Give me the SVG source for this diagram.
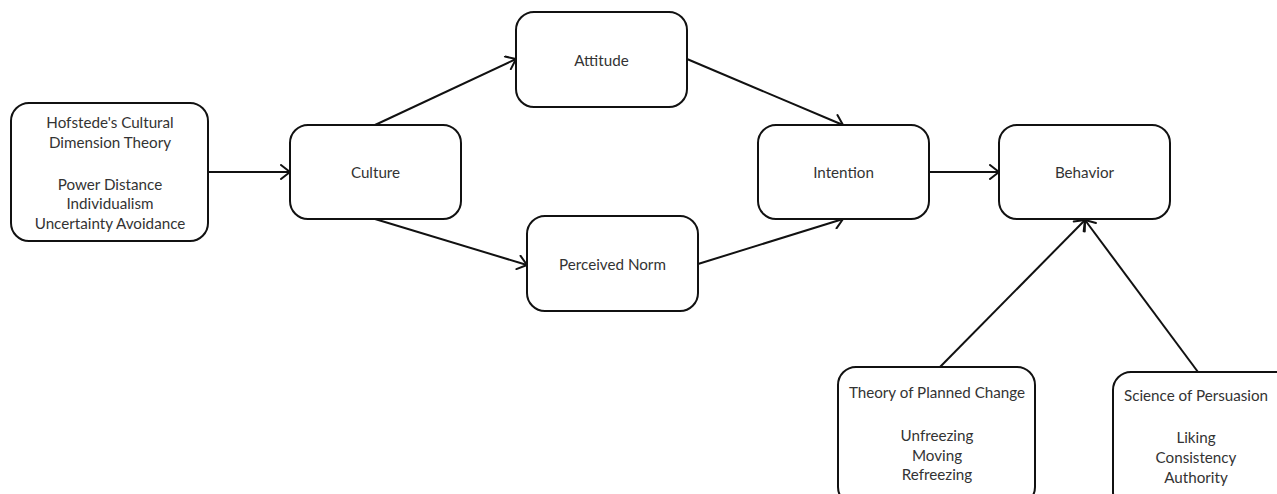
<svg xmlns="http://www.w3.org/2000/svg" width="1277" height="494" viewBox="0 0 1277 494">
<defs>
<style>
.n{fill:#fff;stroke:#111;stroke-width:2}
.t{font-family:Lato,"Liberation Sans",sans-serif;font-size:15.2px;fill:#333;text-anchor:middle}
.c{stroke:#111;stroke-width:2;fill:none;marker-end:url(#a)}
</style>
<marker id="a" markerUnits="userSpaceOnUse" markerWidth="14" markerHeight="16" refX="11" refY="8" orient="auto">
<path d="M2,1 L11,8 L2,15" fill="none" stroke="#111" stroke-width="2" stroke-linejoin="round" stroke-linecap="round"/>
</marker>
</defs>
<rect width="1277" height="494" fill="#fff"/>
<g id="connectors">
<line class="c" x1="209" y1="172" x2="290" y2="172"/>
<line class="c" x1="375" y1="125" x2="516" y2="59"/>
<line class="c" x1="375" y1="219" x2="527" y2="265"/>
<line class="c" x1="687" y1="59" x2="843" y2="125"/>
<line class="c" x1="698" y1="264" x2="843" y2="219"/>
<line class="c" x1="929" y1="172" x2="999" y2="172"/>
<line class="c" x1="940" y1="367" x2="1085" y2="220"/>
<line class="c" x1="1198" y1="372" x2="1085" y2="220"/>
</g>
<g id="hofstede">
<rect class="n" x="11" y="103" width="197" height="138" rx="18"/>
<text class="t" x="110" y="127.5">Hofstede's Cultural</text>
<text class="t" x="110" y="147.5">Dimension Theory</text>
<text class="t" x="110" y="189.5">Power Distance</text>
<text class="t" x="110" y="208.5">Individualism</text>
<text class="t" x="110" y="228.5">Uncertainty Avoidance</text>
</g>
<g id="culture">
<rect class="n" x="290" y="125" width="171" height="94" rx="18"/>
<text class="t" x="375.5" y="177.5">Culture</text>
</g>
<g id="attitude">
<rect class="n" x="516" y="12" width="171" height="95" rx="18"/>
<text class="t" x="601.5" y="65.5">Attitude</text>
</g>
<g id="perceived-norm">
<rect class="n" x="527" y="216" width="171" height="95" rx="18"/>
<text class="t" x="612.5" y="269.5">Perceived Norm</text>
</g>
<g id="intention">
<rect class="n" x="758" y="125" width="171" height="94" rx="18"/>
<text class="t" x="843.5" y="177.5">Intention</text>
</g>
<g id="behavior">
<rect class="n" x="999" y="125" width="171" height="94" rx="18"/>
<text class="t" x="1084.5" y="177.5">Behavior</text>
</g>
<g id="planned-change">
<rect class="n" x="838" y="367" width="197" height="138" rx="18"/>
<text class="t" x="937" y="397.5">Theory of Planned Change</text>
<text class="t" x="937" y="440.5">Unfreezing</text>
<text class="t" x="937" y="460.5">Moving</text>
<text class="t" x="937" y="479.5">Refreezing</text>
</g>
<g id="persuasion">
<rect class="n" x="1113" y="372" width="197" height="138" rx="18"/>
<text class="t" x="1196" y="400.5">Science of Persuasion</text>
<text class="t" x="1196" y="442.5">Liking</text>
<text class="t" x="1196" y="462.5">Consistency</text>
<text class="t" x="1196" y="482.5">Authority</text>
</g>
</svg>
